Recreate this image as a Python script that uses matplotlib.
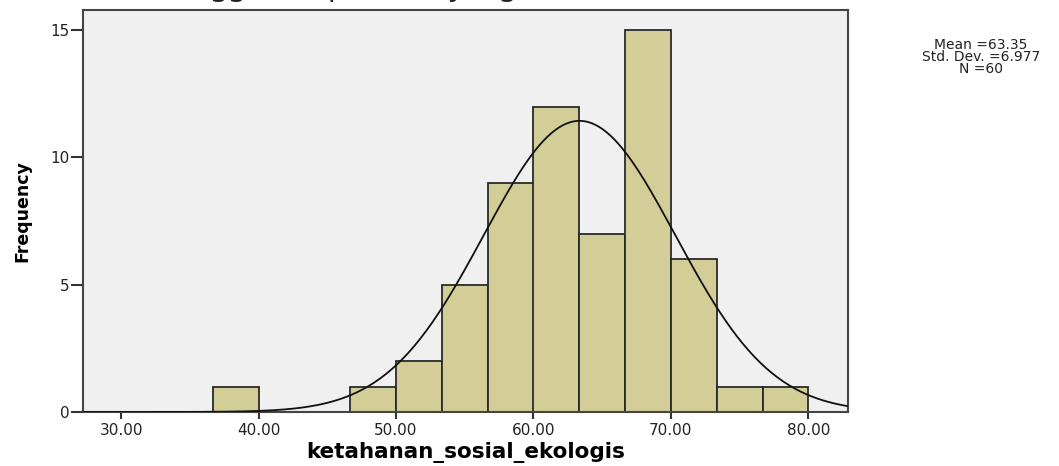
import numpy as np
import matplotlib.pyplot as plt

# histogram data (bin edges are 10/3 wide)
bin_left = [36.67, 46.67, 50.00, 53.33, 56.67, 60.00, 63.33, 66.67, 70.00, 73.33, 76.67]
counts = [1, 1, 2, 5, 9, 12, 7, 15, 6, 1, 1]
bin_width = 10 / 3
x_ticks = [30, 40, 50, 60, 70, 80]
y_ticks = [0, 5, 10, 15]

mean = 63.35
std = 6.977
n = 60

fig = plt.figure(figsize=(10.59, 4.66), dpi=100)
ax = fig.add_axes([0.0784, 0.1159, 0.7226, 0.8626])
ax.set_facecolor('#F0F0F0')

ax.bar(bin_left, counts, width=bin_width, align='edge',
       color='#D3CE98', edgecolor='#2a2a2a', linewidth=1.3, zorder=2)

# normal curve
xs = np.linspace(27.23, 82.9, 400)
ys = n * bin_width / (std * np.sqrt(2 * np.pi)) * np.exp(-0.5 * ((xs - mean) / std) ** 2)
ax.plot(xs, ys, color='#111111', linewidth=1.3, zorder=3)

ax.set_xlim(27.23, 82.9)
ax.set_ylim(0, 15.79)
ax.set_xticks(x_ticks)
ax.set_xticklabels(['%.2f' % v for v in x_ticks])
ax.set_yticks(y_ticks)

for s in ax.spines.values():
    s.set_color('#444444')
    s.set_linewidth(1.5)

ax.tick_params(axis='both', direction='out', color='#333333', width=1.5,
               labelsize=11, labelcolor='#222222')
ax.tick_params(axis='y', length=9, pad=1)
ax.tick_params(axis='x', length=5, pad=3)
for lab in ax.get_xticklabels() + ax.get_yticklabels():
    lab.set_family('DejaVu Sans')

ax.set_xlabel('ketahanan_sosial_ekologis', fontsize=15.5, fontweight='bold',
              family='DejaVu Sans', labelpad=3)
ax.set_ylabel('Frequency', fontsize=12.5, fontweight='bold',
              family='DejaVu Sans', labelpad=13)

fig.text(0.926, 0.918, 'Mean =63.35\nStd. Dev. =6.977\nN =60', ha='center', va='top',
         fontsize=10, family='DejaVu Sans', linespacing=0.82, color='#222222')

# cut-off document line above the chart (only descenders show)
fig.text(0.077, 1.011, 'tabel, hingga   responden  yang', ha='left', va='baseline',
         fontsize=21, family='Noto Sans', color='#222222')

plt.savefig('out.png', dpi=100)
